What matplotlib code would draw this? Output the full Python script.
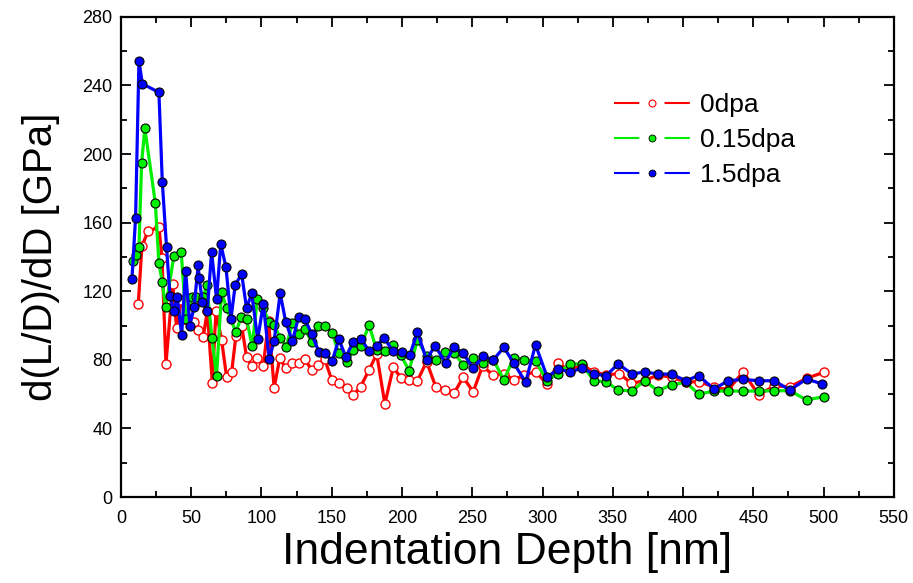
"""
Indentation depth vs d(L/D)/dD chart
"""
import matplotlib
matplotlib.use('Agg')
import matplotlib.pyplot as plt
from matplotlib.lines import Line2D
from matplotlib.ticker import MultipleLocator

# 0dpa (빨강, 속이 빈 원)
depth_0 = [12.3, 14.9, 19.2, 27.0, 29.2, 32.0, 36.8, 39.6, 43.0, 47.2, 52.0, 55.0, 58.6, 61.4,
           65.0, 67.6, 71.6, 75.2, 78.8, 81.8, 85.9, 89.4, 93.0, 96.5, 101.3, 105.0, 109.0, 113.0,
           117.4, 122.0, 126.9, 131.0, 135.7, 140.4, 145.0, 150.0, 155.0, 160.6, 165.3, 170.5,
           176.5, 182.0, 187.8, 193.8, 199.2, 205.0, 211.0, 217.5, 224.0, 230.5, 237.0, 243.5,
           250.7, 257.3, 265.0, 272.5, 279.6, 287.0, 295.0, 303.3, 311.0, 319.5, 327.8, 336.6,
           345.0, 354.6, 363.3, 372.6, 382.0, 391.8, 402.0, 411.0, 422.0, 432.0, 442.8, 453.7,
           464.8, 476.0, 487.9, 500.0]
val_0 = [112.4, 146.2, 155.0, 157.3, 139.4, 77.6, 124.0, 98.4, 115.0, 103.2, 102.3, 97.4, 93.5, 108.5,
         66.7, 108.5, 91.6, 69.8, 73.1, 94.0, 99.8, 81.5, 76.6, 81.3, 76.6, 102.8, 63.8, 80.9,
         75.0, 78.0, 78.0, 80.3, 74.0, 77.0, 80.3, 68.3, 66.7, 63.4, 59.3, 64.3,
         74.0, 83.4, 54.3, 75.6, 69.6, 68.3, 67.8, 79.0, 64.3, 62.4, 60.5, 69.8,
         61.4, 76.4, 71.0, 72.0, 68.3, 71.2, 73.0, 65.9, 78.0, 73.7, 77.0, 73.0,
         71.2, 72.0, 66.3, 67.8, 71.2, 69.8, 67.0, 67.3, 64.3, 62.4, 73.0, 59.5,
         64.8, 64.3, 69.2, 72.7]

# 0.15dpa (초록)
depth_015 = [8.3, 10.4, 12.8, 14.7, 17.0, 24.4, 27.0, 29.4, 31.8, 37.7, 42.9, 46.2, 50.3, 53.4,
             58.6, 61.0, 64.7, 68.0, 71.6, 75.2, 81.8, 85.4, 89.4, 93.4, 97.0, 101.0, 105.5, 109.0,
             113.3, 117.6, 122.0, 126.9, 131.0, 135.7, 140.4, 145.0, 150.3, 155.0, 160.6, 165.3,
             170.8, 176.5, 182.0, 187.8, 193.3, 199.2, 205.0, 211.0, 217.5, 224.0, 230.5, 237.0,
             243.5, 250.7, 257.8, 265.0, 272.5, 279.6, 287.0, 295.0, 303.3, 311.0, 319.5, 327.8,
             336.6, 345.0, 353.8, 363.8, 372.6, 382.0, 391.8, 402.0, 411.0, 422.0, 432.0, 442.6,
             453.7, 464.8, 476.0, 487.9, 500.0]
val_015 = [137.8, 141.0, 146.0, 195.0, 215.0, 171.7, 136.7, 125.2, 110.7, 140.8, 142.7, 103.7, 116.8, 116.5,
           116.5, 123.7, 93.0, 70.6, 119.4, 110.0, 96.0, 104.8, 103.7, 88.0, 115.3, 110.0, 102.3, 100.3,
           93.0, 87.7, 101.7, 95.0, 97.8, 90.6, 99.8, 99.8, 95.8, 83.8, 78.7, 85.7,
           88.0, 100.3, 85.7, 85.3, 88.7, 82.8, 73.7, 91.6, 82.0, 80.0, 84.8, 84.2,
           77.0, 80.9, 78.0, 80.0, 68.3, 81.3, 80.0, 79.3, 67.8, 72.0, 77.6, 77.6,
           67.7, 67.3, 62.4, 61.8, 67.8, 62.0, 65.3, 67.0, 60.0, 61.8, 61.8, 61.8,
           61.8, 62.0, 62.0, 56.6, 58.5]

# 1.5dpa (파랑)
depth_15 = [7.8, 10.4, 12.8, 15.2, 27.0, 29.4, 32.4, 34.9, 37.7, 40.0, 43.2, 46.0, 49.0, 52.0,
            55.0, 55.6, 58.0, 61.4, 64.5, 68.0, 71.0, 74.7, 78.3, 81.3, 85.9, 89.4, 93.0, 97.3,
            101.3, 105.5, 109.0, 113.3, 117.2, 122.0, 126.4, 131.0, 135.7, 140.9, 145.0, 150.3,
            155.0, 160.0, 165.3, 170.8, 176.7, 182.0, 187.0, 193.3, 199.7, 205.6, 211.0, 217.5,
            223.4, 231.0, 237.0, 243.5, 250.7, 257.8, 265.0, 272.5, 279.6, 288.0, 295.0, 303.3,
            311.0, 319.5, 327.8, 336.6, 345.0, 353.8, 363.8, 372.6, 382.0, 391.8, 402.0, 411.0,
            422.0, 432.0, 442.8, 453.7, 464.8, 476.0, 487.9, 499.2]
val_15 = [127.0, 163.0, 254.5, 241.0, 236.0, 184.0, 146.0, 117.0, 108.7, 116.8, 94.5, 132.0, 100.0, 110.6,
          135.5, 128.0, 113.5, 108.7, 143.0, 115.5, 147.6, 134.0, 104.0, 123.7, 130.0, 110.0, 118.8, 92.0,
          112.6, 80.5, 91.0, 118.8, 102.3, 91.0, 105.0, 103.6, 95.0, 84.6, 83.8, 79.3,
          92.0, 81.8, 90.4, 92.2, 85.0, 88.0, 93.0, 85.4, 84.8, 83.0, 96.0, 80.0,
          88.3, 78.3, 87.7, 83.8, 75.0, 82.0, 80.0, 87.3, 78.0, 67.0, 88.8, 70.0,
          74.5, 73.0, 75.0, 72.0, 70.6, 77.6, 71.7, 73.0, 71.7, 71.7, 67.8, 70.8,
          63.0, 67.8, 68.6, 67.8, 67.8, 62.4, 68.8, 65.9]

x_ticks = list(range(0, 551, 50))
y_ticks = list(range(0, 281, 40))
labels = ['0dpa', '0.15dpa', '1.5dpa']


def make_chart():
    plt.rcParams['font.family'] = ['Liberation Sans Narrow', 'Liberation Sans', 'DejaVu Sans']
    plt.rcParams['lines.scale_dashes'] = False

    fig = plt.figure(figsize=(9.13, 5.83), dpi=100)
    ax = fig.add_axes([0.1325, 0.1475, 0.8465, 0.8235])

    lw = 2.3
    ms = 6.5
    ax.plot(depth_0, val_0, color='#ff0000', lw=lw, marker='o', ms=ms,
            mfc='white', mec='#ff0000', mew=1.0, zorder=3)
    ax.plot(depth_015, val_015, color='#00ee00', lw=lw, marker='o', ms=ms,
            mfc='#00ee00', mec='black', mew=0.8, zorder=4)
    ax.plot(depth_15, val_15, color='#0000ff', lw=lw, marker='o', ms=ms,
            mfc='#0000ff', mec='black', mew=0.8, zorder=5)

    # 축 설정
    ax.set_xlim(0, 550)
    ax.set_ylim(0, 280)
    ax.set_xticks(x_ticks)
    ax.set_yticks(y_ticks)
    ax.xaxis.set_minor_locator(MultipleLocator(25))
    ax.yaxis.set_minor_locator(MultipleLocator(20))
    ax.tick_params(which='both', direction='in', top=True, right=True,
                   width=1.3, labelsize=13)
    ax.tick_params(which='major', length=7)
    ax.tick_params(which='minor', length=4)
    ax.tick_params(axis='x', which='major', pad=9)
    ax.tick_params(axis='y', which='major', pad=6)
    for sp in ax.spines.values():
        sp.set_linewidth(1.6)

    ax.set_xlabel('Indentation Depth [nm]', fontsize=32, labelpad=4)
    ax.set_ylabel('d(L/D)/dD [GPa]', fontsize=29, labelpad=16)

    # 범례: 선 - 마커 - 선
    handles = [
        Line2D([], [], color='#ff0000', lw=1.5, dashes=(18.2, 18.2), marker='o', ms=5,
               mfc='white', mec='#ff0000', mew=0.8),
        Line2D([], [], color='#00ee00', lw=1.5, dashes=(18.2, 18.2), marker='o', ms=5,
               mfc='#00ee00', mec='black', mew=0.6),
        Line2D([], [], color='#0000ff', lw=1.5, dashes=(18.2, 18.2), marker='o', ms=5,
               mfc='#0000ff', mec='black', mew=0.6),
    ]
    ax.legend(handles, labels, loc='upper left', bbox_to_anchor=(614 / 913, 1 - 93 / 583),
              bbox_transform=fig.transFigure, frameon=False, fontsize=19, numpoints=1,
              handlelength=2.88, handletextpad=0.38, labelspacing=0.42, borderpad=0,
              borderaxespad=0)

    fig.savefig('out.png', dpi=100)
    plt.close(fig)


if __name__ == '__main__':
    make_chart()
